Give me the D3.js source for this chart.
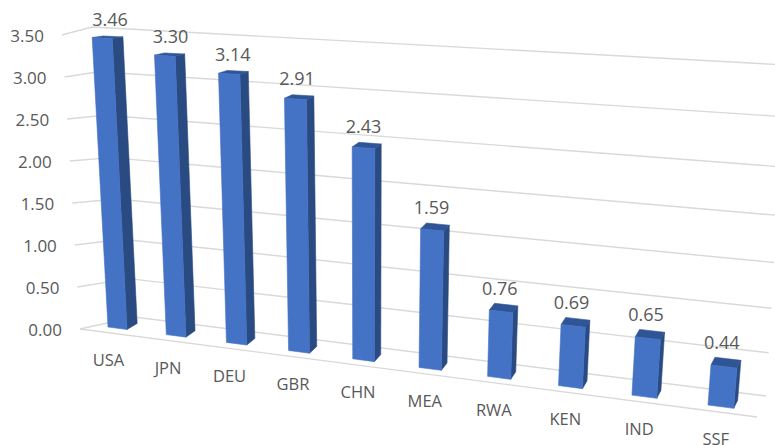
<!DOCTYPE html>
<html><head><meta charset="utf-8">
<script src="https://cdn.jsdelivr.net/npm/d3@7"></script>
<style>html,body{margin:0;padding:0;background:#fff;overflow:hidden}text{font-family:"Open Sans",sans-serif;fill:#595959}</style>
</head><body><svg id="c" width="775" height="445"></svg>
<script>
const categories = ["USA","JPN","DEU","GBR","CHN","MEA","RWA","KEN","IND","SSF"];
const values = [3.46,3.30,3.14,2.91,2.43,1.59,0.76,0.69,0.65,0.44];
const yTicks = [0,0.5,1,1.5,2,2.5,3,3.5];

// planes of the 3D box, as four projected corners: [u0v0, u1v0, u0v1, u1v1]
const frontQuad = [[108,327],[708,405],[92,34],[733,67]];
const backQuad  = [[118.5,321],[712,397],[103,32.5],[737,61]];
const wallQuad  = [[134,317],[766,396],[92,27],[786,65]];
const edgeFront = [[80,329],[62,35]];
const floorFrontEnd = [757,417];
const barFrac = 0.33;

function homography(q){
  const [[x0,y0],[x1,y1],[x3,y3],[x2,y2]] = q;
  const dx1=x1-x2,dx2=x3-x2,sx=x0-x1+x2-x3,dy1=y1-y2,dy2=y3-y2,sy=y0-y1+y2-y3;
  const den=dx1*dy2-dx2*dy1;
  const g=(sx*dy2-dx2*sy)/den,h=(dx1*sy-sx*dy1)/den;
  const a=x1-x0+g*x1,b=x3-x0+h*x3,d=y1-y0+g*y1,e=y3-y0+h*y3;
  return (u,v)=>{const w=g*u+h*v+1;return [(a*u+b*v+x0)/w,(d*u+e*v+y0)/w];};
}
const F=homography(frontQuad),B=homography(backQuad),W=homography(wallQuad);

const svg=d3.select("#c");
const uS=d3.scalePoint().domain(categories).range([0,1]);
const vS=d3.scaleLinear().domain([0,3.5]).range([0,1]);
const bw=uS.step()*barFrac;
const edgeX=d3.scaleLinear().domain([0,3.5]).range([edgeFront[0][0],edgeFront[1][0]]);
const edgeY=d3.scaleLinear().domain([0,3.5]).range([edgeFront[0][1],edgeFront[1][1]]);
const catShift=d3.scaleLinear().domain([0,0.4,1]).range([-9,-5.5,-5]);
const valShift=d3.scaleLinear().domain([0,0.4,1]).range([-3,-6.5,-6]);
const line=d3.line();
const GRID="#d9d9d9";

// gridlines: side wall + back wall
const grid=svg.append("g").attr("fill","none").attr("stroke",GRID).attr("stroke-width",1.4);
grid.selectAll("path").data(yTicks).join("path")
  .attr("d",v=>line([[edgeX(v),edgeY(v)],W(0,vS(v)),W(1,vS(v))]));
grid.append("path").attr("d",line([[edgeX(0),edgeY(0)],floorFrontEnd]));

// y axis labels
svg.append("g").selectAll("text").data(yTicks).join("text")
  .attr("x",v=>edgeX(v)-18).attr("y",v=>edgeY(v)+2)
  .attr("text-anchor","end").attr("dominant-baseline","middle")
  .attr("font-size",17).text(d3.format(".2f"));

// bars
const poly=p=>"M"+p.map(a=>a.join(",")).join("L")+"Z";
const bars=svg.append("g").selectAll("g").data(categories).join("g");
const face=(g,color,pts)=>g.append("path").attr("fill",color).attr("stroke",color).attr("stroke-width",0.6).attr("stroke-linejoin","round").attr("d",poly(pts));
bars.each(function(c,i){
  const g=d3.select(this),u=uS(c),t=vS(values[i]);
  const u2=u+bw;
  face(g,"#2a4a82",[F(u2,0),B(u2,0),B(u2,t),F(u2,t)]);
  face(g,"#2f5597",[F(u,t),F(u2,t),B(u2,t),B(u,t)]);
  face(g,"#4472c4",[F(u,0),F(u2,0),F(u2,t),F(u,t)]);
});

// value labels
svg.append("g").selectAll("text").data(categories).join("text")
  .attr("text-anchor","middle").attr("font-size",18)
  .attr("x",(c,i)=>B(uS(c)+bw/2,vS(values[i]))[0]+valShift(uS(c)))
  .attr("y",(c,i)=>B(uS(c)+bw/2,vS(values[i]))[1]-10)
  .text((c,i)=>values[i].toFixed(2));

// category labels
svg.append("g").selectAll("text").data(categories).join("text")
  .attr("text-anchor","middle").attr("font-size",16.5)
  .attr("x",c=>F(uS(c)+bw/2,0)[0]+catShift(uS(c)))
  .attr("y",c=>F(uS(c)+bw/2,0)[1]+38)
  .text(c=>c);
</script></body></html>
